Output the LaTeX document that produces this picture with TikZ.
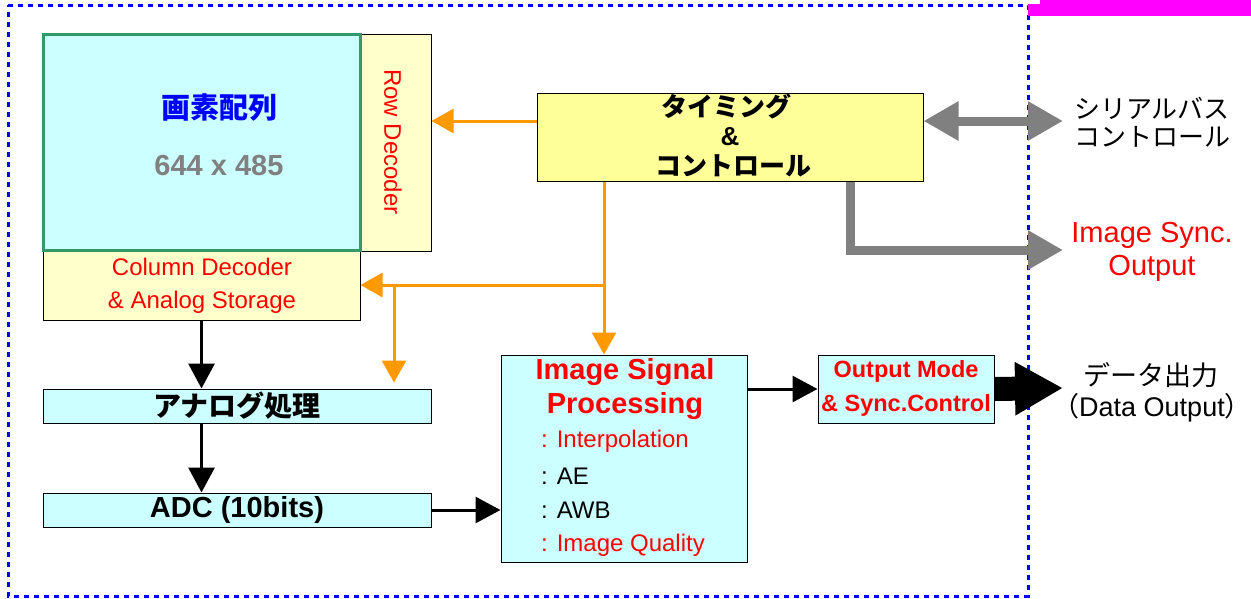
\documentclass[tikz,border=0pt]{standalone}
\usepackage{fontspec}
\setmainfont{Liberation Sans}
\newfontfamily\jp{Noto Sans CJK JP}
\usetikzlibrary{arrows.meta,calc}
\definecolor{lcyan}{HTML}{CCFFFF}
\definecolor{lyel}{HTML}{FFFFCC}
\definecolor{tyel}{HTML}{FFFF99}
\definecolor{pgreen}{HTML}{339966}
\definecolor{orng}{HTML}{FF9900}
\definecolor{gry}{HTML}{808080}
\definecolor{rd}{HTML}{FF0000}
\definecolor{mag}{HTML}{FF00FF}
\definecolor{blu}{HTML}{0000FF}
\tikzset{
  box/.style={draw=black, line width=1pt, inner sep=0pt, align=center},
  oarr/.style={draw=orng, line width=3pt, -{Triangle[length=22pt,width=24pt]}},
  barr/.style={draw=black, line width=3pt, -{Triangle[length=25pt,width=26pt]}},
  garr/.style={draw=gry, line width=9pt, -{Triangle[length=35pt,width=37pt]}},
  fs/.style={font=\fontsize{#1}{#1}\selectfont},
}
\begin{document}
\begin{tikzpicture}[x=1pt,y=-1pt]
\useasboundingbox (0,0) rectangle (1251,598);
% outer border
\draw[blu, line width=3pt, dash pattern=on 5pt off 5pt] (8,5) -- (1028,5) -- (1028,596) -- (8,596) -- cycle;
\fill[mag] (1040,0) rectangle (1251,16);
\fill[mag] (1028,4) rectangle (1041,16);
% boxes
\node[box, fill=lyel, minimum width=71pt, minimum height=217pt] (row) at (395.5,142.5) {};
\node[fs=24, text=rd, rotate=-90] (rowt) at (393,142) {Row Decoder};
\node[box, fill=lyel, minimum width=317pt, minimum height=70pt] (col) at (201.5,285) {};
\node[fs=24, text=rd] (colt1) at (202,267) {Column Decoder};
\node[fs=24, text=rd] (colt2) at (202,302) {\& Analog Storage};
\node[box, draw=pgreen, line width=3pt, fill=lcyan, minimum width=317pt, minimum height=216pt] (pix) at (201.5,142) {};
\node[fs=29, text=blu] (pixt) at (219,108) {\jp\bfseries 画素配列};
\node[fs=29, text=gry] (pixn) at (219,166) {\bfseries 644 x 485};
\node[box, fill=tyel, minimum width=386pt, minimum height=88pt] (tim) at (730,137) {};
\node[fs=26] (tim1) at (726,106) {\jp\bfseries タイミング};
\node[fs=26] (tim2) at (730,137) {\bfseries \&};
\node[fs=26] (tim3) at (733,166) {\jp\bfseries コントロール};
\node[box, fill=lcyan, minimum width=388pt, minimum height=34pt, fs=28] (ana) at (237,406) {\jp\bfseries アナログ処理};
\node[box, fill=lcyan, minimum width=388pt, minimum height=34pt, fs=29] (adc) at (237,510) {\bfseries ADC (10bits)};
\node[box, fill=lcyan, minimum width=246pt, minimum height=207pt] (isp) at (624,458.5) {};
\node[fs=29, text=rd] (isp1) at (625,372) {\bfseries Image Signal};
\node[fs=29, text=rd] (isp2) at (625,406) {\bfseries Processing};
\node[fs=24, text=rd, anchor=west, inner sep=0pt] (isp3) at (541,441) {: Interpolation};
\node[fs=24, anchor=west, inner sep=0pt] (isp4) at (541,476) {: AE};
\node[fs=24, anchor=west, inner sep=0pt] (isp5) at (541,510) {: AWB};
\node[fs=24, text=rd, anchor=west, inner sep=0pt] (isp6) at (541,545) {: Image Quality};
\node[box, fill=lcyan, minimum width=176pt, minimum height=68pt] (out) at (906,389) {};
\node[fs=23.5, text=rd] (out1) at (906,371) {\bfseries Output Mode};
\node[fs=23.5, text=rd] (out2) at (906,405) {\bfseries \& Sync.Control};
% right labels
\node[fs=26] (sb1) at (1152,108) {\jp シリアルバス};
\node[fs=26] (sb2) at (1152,137) {\jp コントロール};
\node[fs=29, text=rd] (is1) at (1152,235) {Image Sync.};
\node[fs=29, text=rd] (is2) at (1152,268) {Output};
\node[fs=27] (do1) at (1151,375) {\jp データ出力};
\node[fs=27] (do2) at (1152,408) {\jp（\rmfamily Data Output\jp）};
% coordinates
\coordinate (ta) at ([yshift=16pt]tim.west);
\coordinate (tb) at ([yshift=16pt]tim.east);
\coordinate (sbus) at (1063,121);
\coordinate (j1) at (604,285);
\coordinate (j2) at (394,285);
\coordinate (gx) at (850,250);
\coordinate (syn) at (1063,250);
\coordinate (dat) at (1063,388);
% orange
\draw[oarr] (ta) -- (ta -| row.east);
\draw[oarr] (tim.south -| j1) -- (j1 |- isp.north);
\draw[oarr] (j1) -- (j1 -| col.east);
\draw[oarr, shorten >=6pt] (j2) -- (j2 |- ana.north);
% black
\draw[barr] (col.south) -- (col.south |- ana.north);
\draw[barr] (col.south |- ana.south) -- (col.south |- adc.north);
\draw[barr] (adc.east) -- (adc.east -| isp.west);
\draw[barr] (isp.east |- out.west) -- (out.west);
\draw[draw=black, line width=24pt, -{Triangle[length=48pt,width=50pt]}] (out.east) -- (dat);
% gray
\draw[garr, {Triangle[length=35pt,width=37pt]}-{Triangle[length=35pt,width=37pt]}] (tb) -- (sbus);
\draw[garr] (tim.south -| gx) -- (gx) -- (syn);
\end{tikzpicture}
\end{document}
